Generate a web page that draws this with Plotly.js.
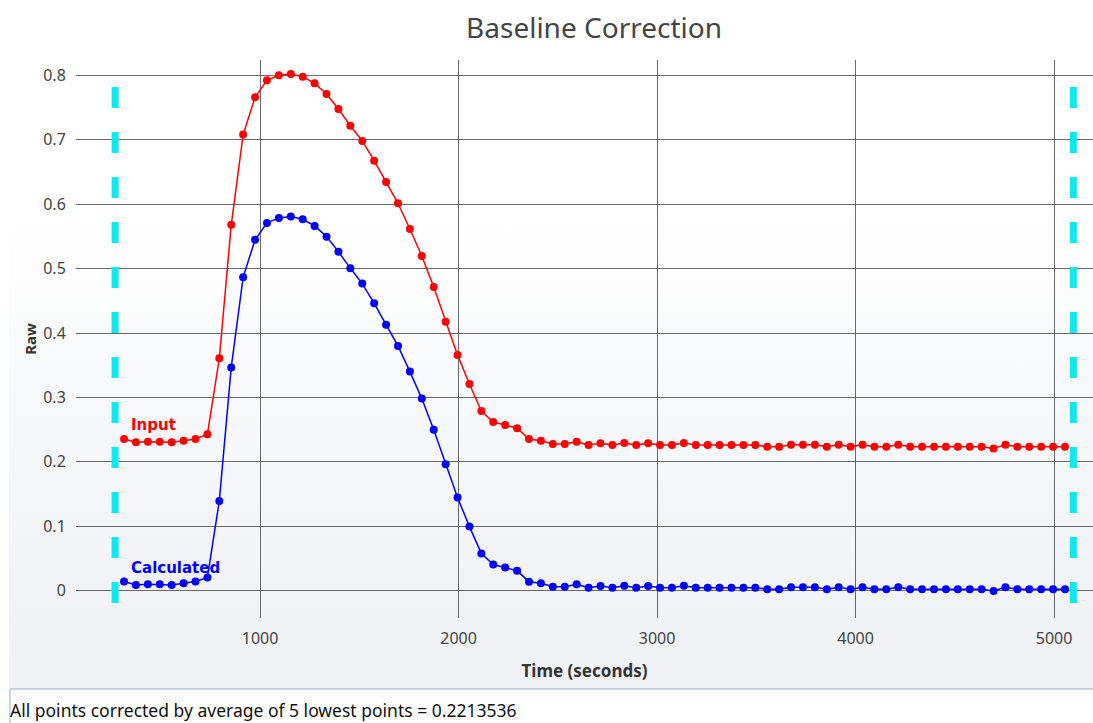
<!DOCTYPE html>
<html>
<head>
<meta charset="utf-8">
<script src="https://cdn.plot.ly/plotly-3.0.1.min.js"></script>
<style>
  html, body { margin: 0; padding: 0; background: #ffffff; }
  #wrap { position: relative; width: 1093px; height: 723px; overflow: hidden; }
  #panel { position: absolute; left: 9px; top: 0; width: 1084px; height: 723px;
           background: linear-gradient(to bottom, #ffffff 0%, #ffffff 30%, #f6f7f9 60%, #eef0f3 100%); }
  #chart { position: absolute; left: 0; top: 0; width: 1093px; height: 723px; }
</style>
</head>
<body>
<div id="wrap"><div id="panel"></div><div id="chart"></div></div>
<script>
const timeSec = [315,375,435,495,555,615,675,735,795,855,915,975,1035,1095,1155,1215,1275,1335,1395,1455,
  1515,1575,1635,1695,1755,1815,1875,1935,1995,2055,2115,2175,2235,2295,2355,2415,2475,2535,2595,2655,
  2715,2775,2835,2895,2955,3015,3075,3135,3195,3255,3315,3375,3435,3495,3555,3615,3675,3735,3795,3855,
  3915,3975,4035,4095,4155,4215,4275,4335,4395,4455,4515,4575,4635,4695,4755,4815,4875,4935,4995,5055];

const inputRaw = [0.2355,0.2304,0.2313,0.2313,0.2304,0.2328,0.2355,0.2428,
  0.3608,0.568,0.708,0.766,0.7923,0.8001,0.8021,0.7979,
  0.7876,0.7710,0.7477,0.7218,0.6981,0.6675,0.6344,0.6014,
  0.5615,0.5196,0.4713,0.4176,0.3659,0.3209,0.2790,0.2619,0.2572,0.2523,
  0.2354,0.2328,0.2276,0.2276,0.2313,0.2261,0.2287,0.2261,0.2292,0.2261,
  0.2287,0.2261,0.2261,0.2292,0.2261,0.2261,0.2261,0.2261,0.2261,0.2261,
  0.2236,0.2236,0.2267,0.2267,0.2267,0.2236,0.2267,0.2236,0.2267,0.2236,
  0.2236,0.2267,0.2236,0.2236,0.2236,0.2236,0.2236,0.2236,0.2236,0.2209,
  0.2267,0.2236,0.2236,0.2236,0.2236,0.2236];

const calculatedRaw = [0.0142,0.0090,0.0099,0.0099,0.0090,0.0114,0.0142,0.0205,
  0.1394,0.3466,0.4866,0.5446,0.5709,0.5787,0.5807,0.5765,
  0.5662,0.5496,0.5263,0.5004,0.4767,0.4461,0.4130,0.3800,
  0.3401,0.2982,0.2499,0.1962,0.1445,0.0995,0.0576,0.0405,0.0358,0.0309,
  0.0140,0.0114,0.0062,0.0062,0.0099,0.0047,0.0073,0.0047,0.0078,0.0047,
  0.0073,0.0047,0.0047,0.0078,0.0047,0.0047,0.0047,0.0047,0.0047,0.0047,
  0.0022,0.0022,0.0053,0.0053,0.0053,0.0022,0.0053,0.0022,0.0053,0.0022,
  0.0022,0.0053,0.0022,0.0022,0.0022,0.0022,0.0022,0.0022,0.0022,-0.0005,
  0.0053,0.0022,0.0022,0.0022,0.0022,0.0022];

const rangeMarkers = [270, 5097];
const rangeMarkerSpan = [-0.0253, 0.782];
const xTicks = [1000, 2000, 3000, 4000, 5000];
const yTicks = [0, 0.1, 0.2, 0.3, 0.4, 0.5, 0.6, 0.7, 0.8];
const seriesNames = ['Input', 'Calculated'];
const footerText = 'All points corrected by average of 5 lowest points = 0.2213536';

const gridCol = 'rgba(70,70,70,0.8)';
const tickFont = {family: 'Noto Sans, Open Sans, sans-serif', size: 16, color: '#444444'};

const traces = [
  {x: timeSec, y: inputRaw, name: seriesNames[0], type: 'scatter', mode: 'lines+markers',
   line: {color: '#ff0000', width: 1.5}, marker: {color: '#ff0000', size: 8}},
  {x: timeSec, y: calculatedRaw, name: seriesNames[1], type: 'scatter', mode: 'lines+markers',
   line: {color: '#0000ff', width: 1.5}, marker: {color: '#0000ff', size: 8}}
];

const shapes = rangeMarkers.map(t => ({
  type: 'line', xref: 'x', yref: 'y', x0: t, x1: t, y0: rangeMarkerSpan[1], y1: rangeMarkerSpan[0],
  line: {color: '#12e6ee', width: 7, dash: '21px,24px'}, layer: 'above'
}));
shapes.push({type: 'rect', xref: 'paper', yref: 'paper', x0: -0.0649, x1: 1.02, y0: -0.1272, y1: -0.25,
  fillcolor: '#ffffff', line: {color: '#9db4d2', width: 1}, layer: 'below'});

const annotations = [
  {xref: 'x', yref: 'y', x: timeSec[0], y: inputRaw[0], text: '<b>' + seriesNames[0] + '</b>',
   showarrow: false, xanchor: 'left', yanchor: 'middle', xshift: 5, yshift: 14,
   font: {family: 'DejaVu Sans, sans-serif', size: 15, color: '#ff0000'}},
  {xref: 'x', yref: 'y', x: timeSec[0], y: calculatedRaw[0], text: '<b>' + seriesNames[1] + '</b>',
   showarrow: false, xanchor: 'left', yanchor: 'middle', xshift: 5, yshift: 14,
   font: {family: 'DejaVu Sans, sans-serif', size: 15, color: '#0000ff'}},
  {xref: 'paper', yref: 'paper', x: -0.066, y: -0.1649, text: footerText, showarrow: false,
   xanchor: 'left', yanchor: 'middle', borderpad: 0,
   font: {family: 'Noto Sans, Open Sans, sans-serif', size: 17.5, color: '#111111'}}
];

const layout = {
  width: 1093, height: 723,
  margin: {l: 76, r: 0, t: 60, b: 105, pad: 0},
  paper_bgcolor: 'rgba(0,0,0,0)', plot_bgcolor: 'rgba(0,0,0,0)',
  showlegend: false,
  title: {text: 'Baseline Correction', xref: 'container', x: 0.5435, xanchor: 'center',
          yref: 'container', y: 0.961, yanchor: 'middle',
          font: {family: 'Noto Sans, Open Sans, sans-serif', size: 28, color: '#444444'}},
  xaxis: {range: [73, 5196], tickvals: xTicks, showgrid: true, gridcolor: gridCol, gridwidth: 1,
          zeroline: false, showline: false, ticks: 'outside', ticklen: 6, tickcolor: 'rgba(0,0,0,0)',
          tickfont: tickFont,
          title: {text: '<b>Time (seconds)</b>', standoff: 16,
                  font: {family: 'Noto Sans, Open Sans, sans-serif', size: 17, color: '#333333'}}},
  yaxis: {range: [-0.0424, 0.8238], tickvals: yTicks, showgrid: true, gridcolor: gridCol, gridwidth: 1,
          zeroline: false, showline: false, ticks: 'outside', ticklen: 6, tickcolor: 'rgba(0,0,0,0)',
          tickfont: tickFont,
          title: {text: '<b>Raw</b>', standoff: 2,
                  font: {family: 'Noto Sans, Open Sans, sans-serif', size: 15, color: '#333333'}}},
  shapes: shapes,
  annotations: annotations
};

Plotly.newPlot('chart', traces, layout, {displayModeBar: false, staticPlot: true});
</script>
</body>
</html>
